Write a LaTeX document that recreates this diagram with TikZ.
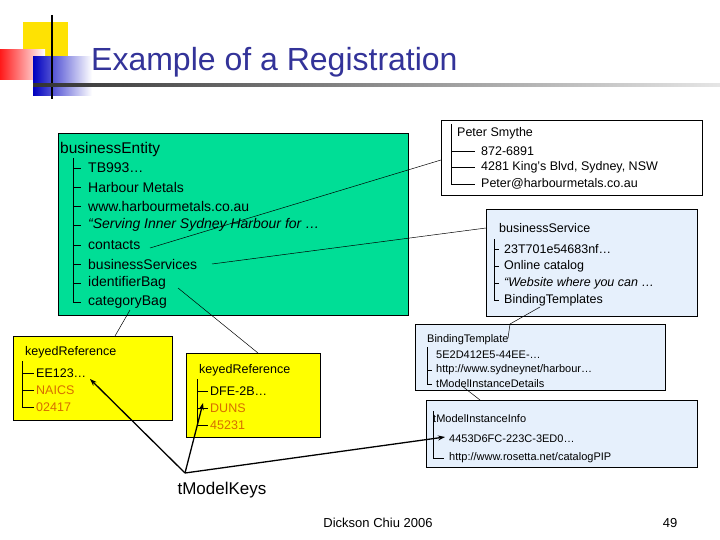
\documentclass[tikz,border=0pt]{standalone}
\usepackage{fontspec}
\setmainfont{Liberation Sans}
\usetikzlibrary{arrows.meta}
\definecolor{ttl}{RGB}{51,51,153}
\definecolor{grn}{RGB}{0,222,150}
\definecolor{lblue}{RGB}{230,240,252}
\definecolor{yel}{RGB}{255,255,0}
\definecolor{org}{RGB}{215,110,0}
\begin{document}
\begin{tikzpicture}[x=1pt,y=-1pt,
  box/.style={draw=black,line width=0.8pt},
  t/.style={anchor=west,inner sep=0pt,font=\fontsize{14}{14}\selectfont},
  ts/.style={anchor=west,inner sep=0pt,font=\fontsize{12.5}{12.5}\selectfont},
  tx/.style={anchor=west,inner sep=0pt,font=\fontsize{11}{11}\selectfont},
  tree/.style={line width=0.6pt},
  link/.style={line width=0.5pt},
  arr/.style={line width=1.3pt,-{Stealth[length=7pt,width=5pt]}}]
\useasboundingbox (0,0) rectangle (720,540);
\fill[white] (0,0) rectangle (720,540);
% logo
\fill[yellow!85!orange] (23,22) rectangle (68,56);
\shade[left color=red!90, right color=white] (0,50) rectangle (45,80);
\shade[left color=blue!75!black, right color=white] (33,57) rectangle (92,96);
\draw[line width=2pt] (52,15) -- (52,99);
\shade[left color=black!80, right color=black!10] (33,84) rectangle (720,86.5);
\node[anchor=west,inner sep=0pt,text=ttl,font=\fontsize{32}{32}\selectfont] (title) at (91,62) {Example of a Registration};
% businessEntity
\node[box,fill=grn,minimum width=350,minimum height=182,anchor=north west] (be) at (58,133) {};
\node[t,font=\fontsize{15.5}{15.5}\selectfont] (beh) at (60,149) {businessEntity};
\node[t] (b1) at (88,168) {TB993…};
\node[t] (b2) at (88,187) {Harbour Metals};
\node[t] (b3) at (88,206) {www.harbourmetals.co.au};
\node[t,font=\fontsize{14}{14}\selectfont\itshape] (b4) at (88,225) {“Serving Inner Sydney Harbour for …};
\node[t] (b5) at (88,245) {contacts};
\node[t] (b6) at (88,264) {businessServices};
\node[t] (b7) at (88,283) {identifierBag};
\node[t] (b8) at (88,302) {categoryBag};
\draw[tree] (73,158) -- (73,302) -- (81,302);
\foreach \y in {168,187,206,225,245,264,283} \draw[tree] (73,\y) -- (81,\y);
% Peter
\node[box,fill=white,minimum width=261,minimum height=75,anchor=north west] (ps) at (441,120) {};
\node[ts] (p0) at (457,133) {Peter Smythe};
\node[ts] (p1) at (481,151) {872-6891};
\node[ts] (p2) at (481,167) {4281 King’s Blvd, Sydney, NSW};
\node[ts] (p3) at (481,184) {Peter@harbourmetals.co.au};
\draw[tree] (451,124) -- (451,184) -- (475,184);
\draw[tree] (451,151) -- (475,151) (451,167) -- (475,167);
% businessService
\node[box,fill=lblue,minimum width=211,minimum height=107,anchor=north west] (bs) at (486,209) {};
\node[ts] (s0) at (499,228) {businessService};
\node[ts] (s1) at (504,249) {23T701e54683nf…};
\node[ts] (s2) at (504,266) {Online catalog};
\node[ts,font=\fontsize{12.5}{12.5}\selectfont\itshape] (s3) at (504,283) {“Website where you can …};
\node[ts] (s4) at (504,300) {BindingTemplates};
\draw[tree] (494,239) -- (494,300) -- (499,300);
\foreach \y in {249,266,283} \draw[tree] (494,\y) -- (499,\y);
% BindingTemplate
\node[box,fill=lblue,minimum width=250,minimum height=66,anchor=north west] (bt) at (415,324) {};
\node[tx] (t0) at (427,340) {BindingTemplate};
\node[tx] (t1) at (436,355) {5E2D412E5-44EE-…};
\node[tx] (t2) at (436,370) {http://www.sydneynet/harbour…};
\node[tx] (t3) at (436,384) {tModelInstanceDetails};
\fill[white] (427,391) rectangle (619,398);
\draw[tree] (427,347) -- (427,384) -- (432,384) (427,370) -- (432,370);
% tModelInstanceInfo
\node[box,fill=lblue,minimum width=271,minimum height=67,anchor=north west] (ti) at (426,400) {};
\node[tx] (i0) at (433,419) {tModelInstanceInfo};
\node[tx] (i1) at (449,439) {4453D6FC-223C-3ED0…};
\node[tx] (i2) at (449,458) {http://www.rosetta.net/catalogPIP};
\draw[tree] (433,411) -- (433,458) -- (444,458);
% keyedReferences
\node[box,fill=yel,minimum width=159,minimum height=84,anchor=north west] (k1) at (13,336) {};
\node[ts] (k10) at (25,352) {keyedReference};
\node[ts] (k11) at (36,373) {EE123…};
\node[ts,text=org] (k12) at (36,390) {NAICS};
\node[ts,text=org] (k13) at (36,407) {02417};
\draw[tree] (22,361) -- (22,407) -- (34,407) (22,373) -- (34,373) (22,390) -- (34,390);
\node[box,fill=yel,minimum width=134,minimum height=84,anchor=north west] (k2) at (186,353) {};
\node[ts] (k20) at (199,370) {keyedReference};
\node[ts] (k21) at (210,391) {DFE-2B…};
\node[ts,text=org] (k22) at (210,408) {DUNS};
\node[ts,text=org] (k23) at (210,425) {45231};
\draw[tree] (197,379) -- (197,425) -- (208,425) (197,391) -- (208,391) (197,408) -- (208,408);
% links
\coordinate (c5) at (150,248);
\coordinate (c6) at (212,264);
\coordinate (c7) at (178,288);
\coordinate (c8) at (130,310);
\coordinate (c9) at (540,307);
\coordinate (c10) at (462,386);
\draw[link] (c5) -- (ps.west |- 0,160);
\draw[link] (c6) -- (bs.west |- 0,228);
\draw[link] (c7) -- (k2.north -| 258,0);
\draw[link] (c8) -- (k1.north -| 115,0);
\draw[link] (c9) -- (bt.north -| 510,0) -- (508,338);
\draw[link] (c10) -- (ti.north -| 480,0);
% tModelKeys
\node[anchor=north,inner sep=0pt,font=\fontsize{17}{17}\selectfont] (tk) at (222,482) {tModelKeys};
\coordinate (tkc) at (185,473);
\draw[arr] (tkc) -- (90,379);
\draw[arr] (tkc) -- (203,403);
\draw[arr] (tkc) -- (445,437);
% footer
\node[inner sep=0pt,font=\fontsize{13}{13}\selectfont] (ft) at (378,523) {Dickson Chiu 2006};
\node[inner sep=0pt,font=\fontsize{13}{13}\selectfont] (pg) at (670,523) {49};
\end{tikzpicture}
\end{document}
